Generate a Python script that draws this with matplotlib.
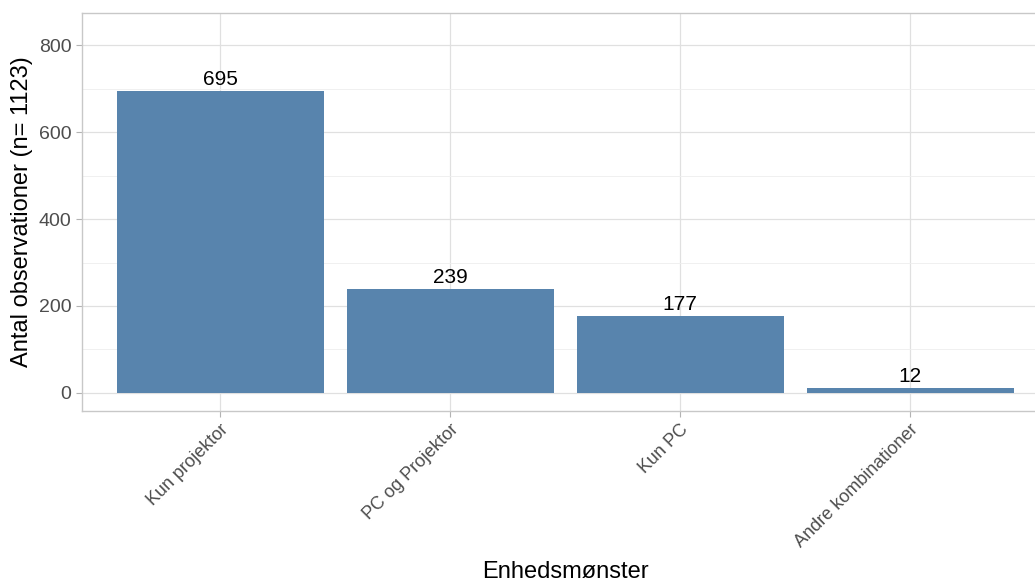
import matplotlib
matplotlib.use("Agg")
import matplotlib.pyplot as plt
from matplotlib.ticker import MultipleLocator

categories = ["Kun projektor", "PC og Projektor", "Kun PC", "Andre kombinationer"]
counts = [695, 239, 177, 12]
y_ticks = [0, 200, 400, 600, 800]
x_title = "Enhedsmønster"
y_title = "Antal observationer (n= 1123)"

plt.rcParams["font.family"] = ["Liberation Sans", "DejaVu Sans"]

W, H = 1035, 582
fig = plt.figure(figsize=(W / 100, H / 100), dpi=100)
left, right, top, bottom = 82, 1048, 13, 411
ax = fig.add_axes([left / W, 1 - bottom / H, (right - left) / W, (bottom - top) / H])

x = list(range(len(categories)))
ax.bar(x, counts, width=0.9, color="#5884AD", zorder=3)
for xi, v in zip(x, counts):
    ax.annotate(str(v), (xi, v), xytext=(0, 1.5), textcoords="offset points",
                ha="center", va="bottom", fontsize=15, color="black", zorder=4)

ax.set_xlim(-0.6, 3.6)
ax.set_ylim(-41.4, 873.6)
ax.set_yticks(y_ticks)
ax.yaxis.set_minor_locator(MultipleLocator(100))
ax.set_xticks(x)
ax.set_xticklabels(categories, rotation=45, ha="right", va="top",
                   rotation_mode="anchor", fontsize=13, color="#4d4d4d")
ax.tick_params(axis="y", labelsize=14, labelcolor="#4d4d4d")
ax.tick_params(axis="both", which="major", color="#b3b3b3", length=4, width=0.8)
ax.tick_params(axis="y", which="minor", length=0)

ax.grid(which="major", color="#e0e0e0", linewidth=0.9, zorder=0)
ax.grid(which="minor", axis="y", color="#eeeeee", linewidth=0.6, zorder=0)
ax.set_axisbelow(True)
for s in ax.spines.values():
    s.set_color("#c8c8c8")
    s.set_linewidth(1.0)

fig.text((left + right) / 2 / W, 1 - 572 / H, x_title, fontsize=17,
         ha="center", va="center")
fig.text(22 / W, 1 - (top + bottom) / 2 / H, y_title, fontsize=17,
         rotation=90, ha="center", va="center")

fig.savefig("out.png", dpi=100)
